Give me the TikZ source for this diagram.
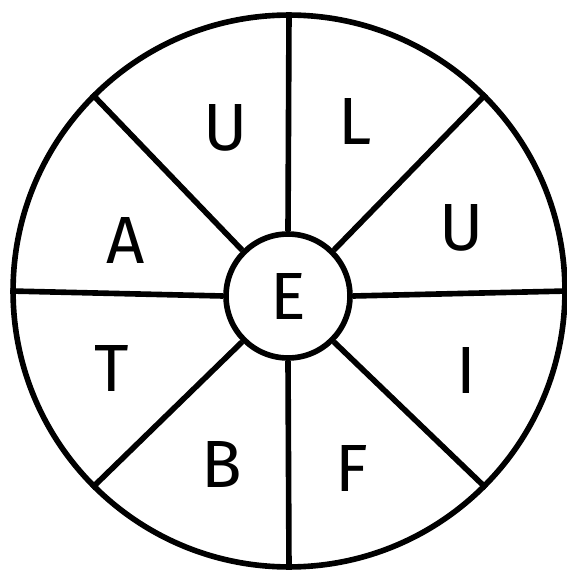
\documentclass[tikz,border=0pt]{standalone}
\usepackage{fontspec}
\setmainfont{Fira Sans}
\usetikzlibrary{positioning}

\begin{document}
\begin{tikzpicture}[
  x=0.02cm, y=-0.02cm,
  wheel/.style={circle, draw, line width=3.2pt, inner sep=0pt},
  spoke/.style={line width=3.2pt},
  letter/.style={font=\fontsize{38}{38}\selectfont, inner sep=0pt},
]
\useasboundingbox (0,0) rectangle (567,574);

% === Outer rim and hub ===
\node[wheel, minimum size=11.04cm] (rim) at (289,291) {};
\node[wheel, minimum size=2.48cm, fill=white, letter] (hub) at (288,296) {E};

% === Spokes ===
\foreach \ang in {0,45,...,315}
  \draw[spoke] (hub.\ang) -- (rim.\ang);

% === Sector letters ===
\node[letter] (ul) at (226,128) {U};
\node[letter] (ll) at (355,122) {L};
\node[letter] (ur) at (462,228) {U};
\node[letter] (ir) at (466,370) {I};
\node[letter] (fb) at (352,468) {F};
\node[letter] (bb) at (222,464) {B};
\node[letter] (tl) at (112,368) {T};
\node[letter] (al) at (126,240) {A};

\end{tikzpicture}
\end{document}
